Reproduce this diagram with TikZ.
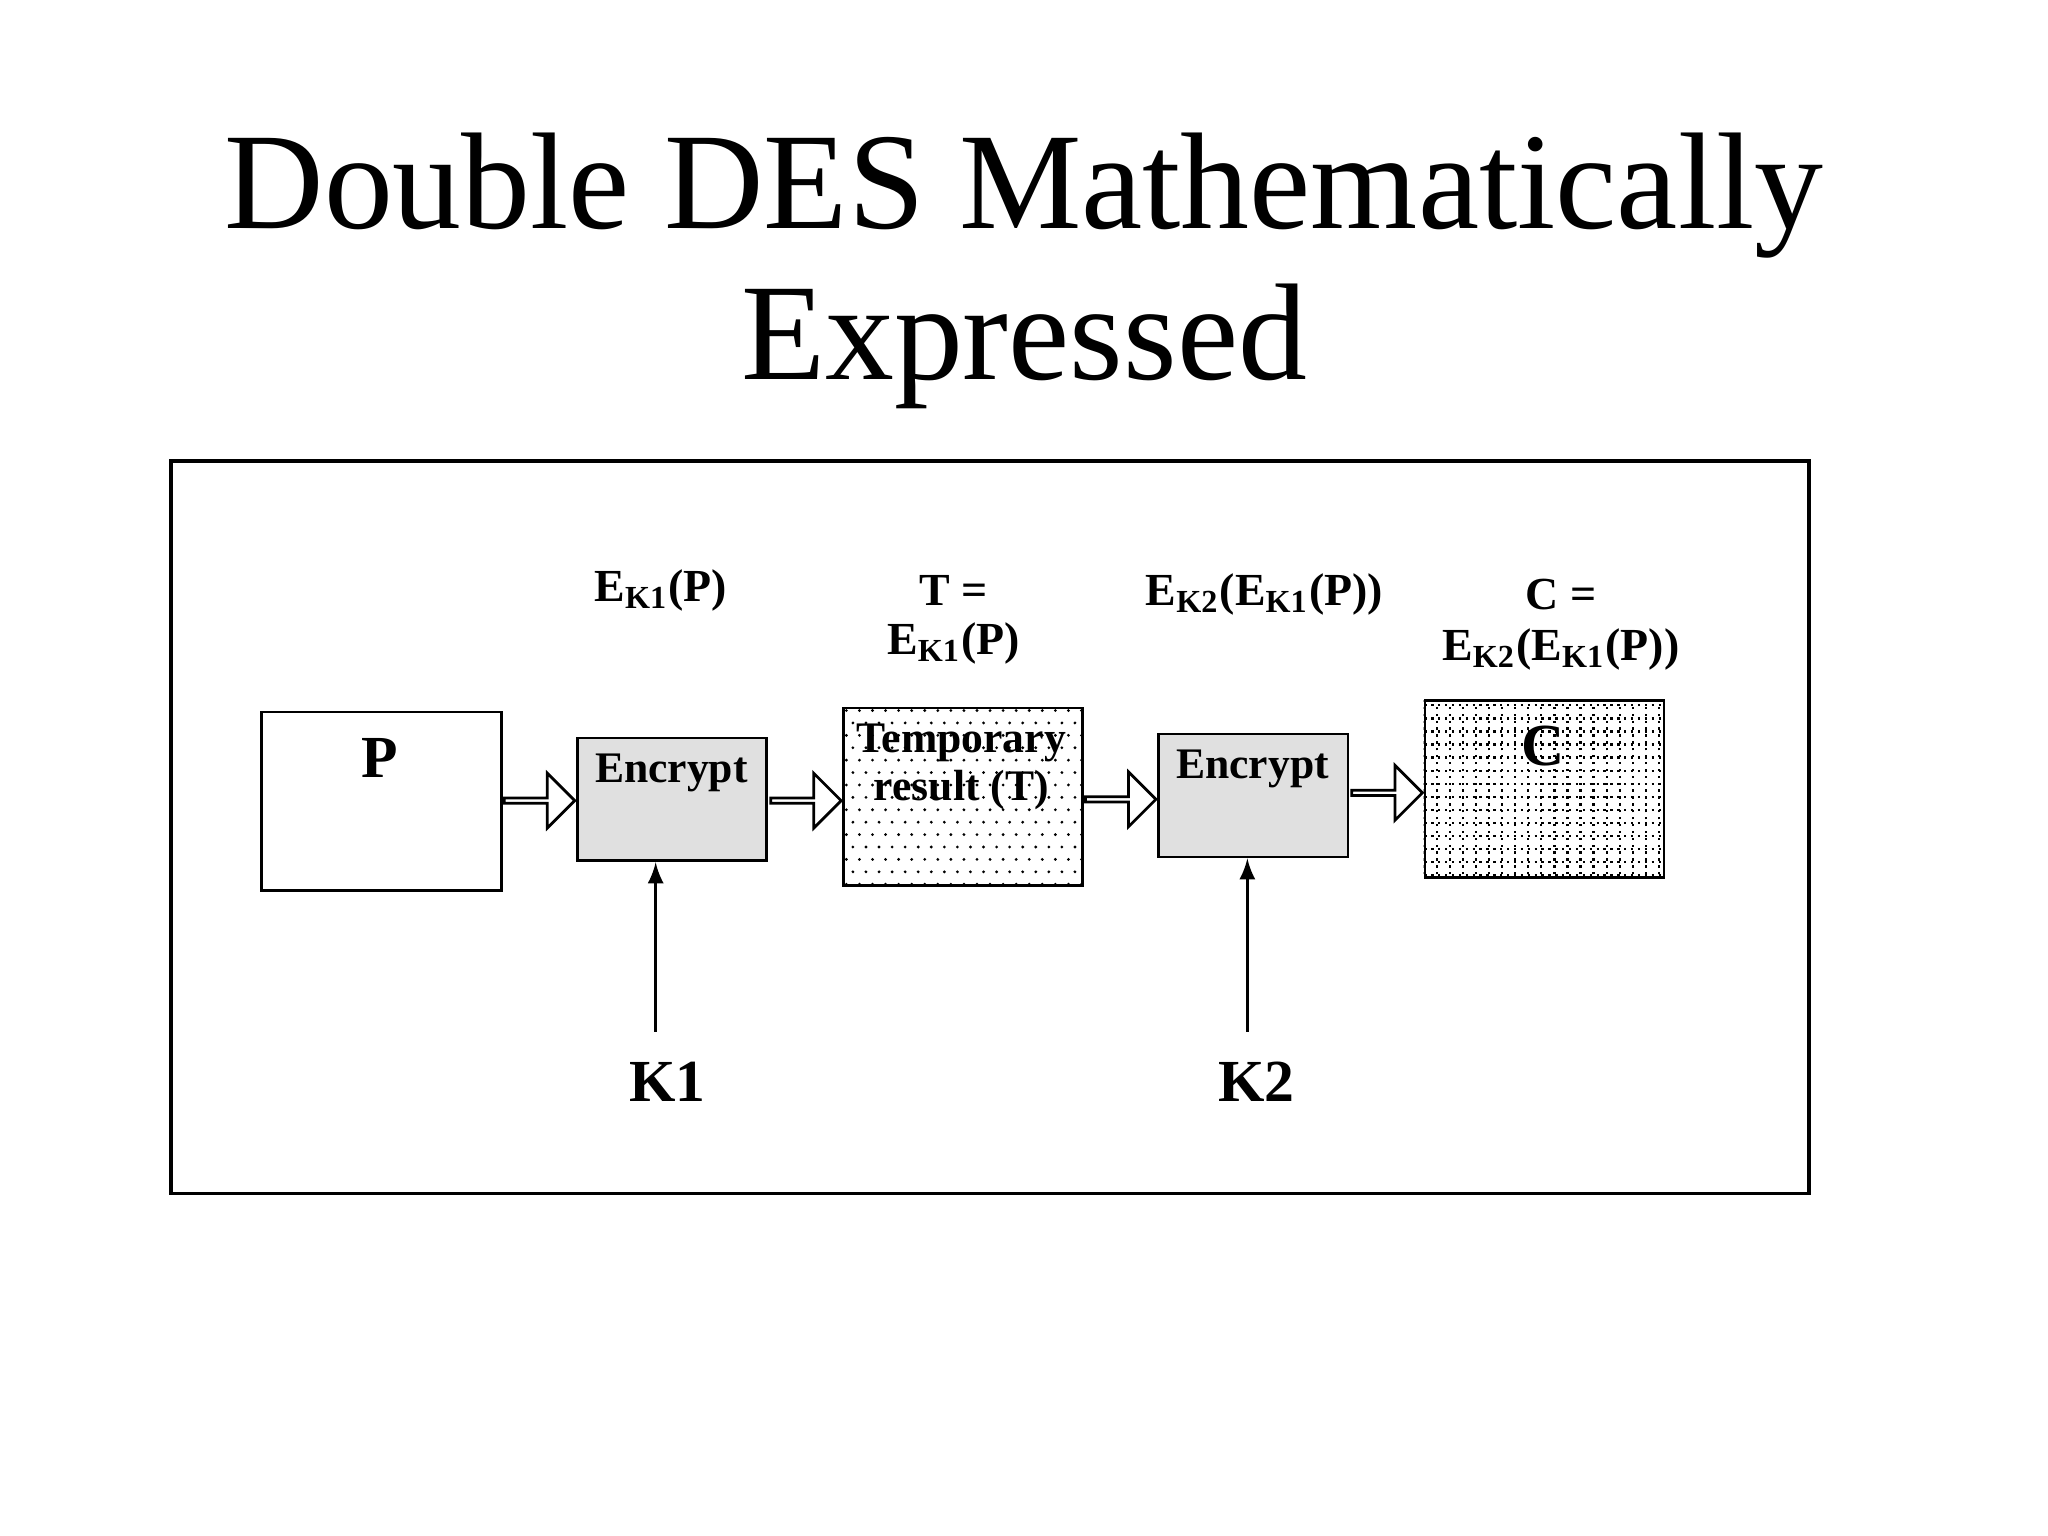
\documentclass[tikz,border=0pt]{standalone}
\usepackage{fontspec}
\setmainfont{Liberation Serif}
\usetikzlibrary{shapes.arrows}
\begin{document}
\begin{tikzpicture}[
  box/.style={draw, line width=0.6pt, anchor=north west},
  lbl/.style={font=\fontsize{10}{11}\selectfont\bfseries, align=center},
  hollow/.style={single arrow, draw, line width=0.6pt, fill=white, minimum height=0.54cm, minimum width=0.42cm, single arrow head extend=0.1cm, inner sep=0pt},
  keyarrow/.style={-latex, line width=0.6pt}
]
\useasboundingbox (0,0) rectangle (15.68,-11.76);
\node[font=\fontsize{30}{34}\selectfont] (t1) at (7.84,-1.50) {Double DES Mathematically};
\node[font=\fontsize{30}{34}\selectfont] (t2) at (7.84,-2.65) {Expressed};
\draw[line width=0.7pt] (1.31,-3.53) rectangle (13.85,-9.14);
% boxes
\node[box, minimum width=1.84cm, minimum height=1.37cm] (P) at (1.99,-5.44) {};
\node[font=\fontsize{13}{14}\selectfont\bfseries] (Pl) at (2.91,-5.80) {P};
\node[box, fill=black!12, minimum width=1.45cm, minimum height=0.94cm] (E1) at (4.41,-5.64) {};
\node[font=\fontsize{9.5}{10}\selectfont\bfseries] (E1l) at (5.14,-5.92) {Encrypt};
% temp with dots
\begin{scope}
\clip (6.45,-5.41) rectangle (8.28,-6.77);
\foreach \i in {0,...,18} \foreach \j in {0,...,14}
  \fill ({6.48+0.1*\i+0.05*mod(\j,2)},{-5.44-0.095*\j}) circle (0.012);
\end{scope}
\node[box, minimum width=1.83cm, minimum height=1.36cm] (T) at (6.45,-5.41) {};
\node[font=\fontsize{9.5}{10}\selectfont\bfseries] (Tl1) at (7.36,-5.69) {Temporary};
\node[font=\fontsize{9.5}{10}\selectfont\bfseries] (Tl2) at (7.36,-6.05) {result (T)};
\node[box, fill=black!12, minimum width=1.45cm, minimum height=0.94cm] (E2) at (8.86,-5.61) {};
\node[font=\fontsize{9.5}{10}\selectfont\bfseries] (E2l) at (9.59,-5.89) {Encrypt};
% C with grid
\begin{scope}
\clip (10.90,-5.35) rectangle (12.73,-6.71);
\draw[densely dotted, line width=0.5pt, step=0.1] (10.8,-6.8) grid (12.8,-5.3);
\end{scope}
\node[box, minimum width=1.83cm, minimum height=1.36cm] (C) at (10.90,-5.35) {};
\node[font=\fontsize{13}{14}\selectfont\bfseries] (Cl) at (11.81,-5.71) {C};
% hollow arrows
\node[hollow] (a1) at (4.12,-6.13) {};
\node[hollow] (a2) at (6.16,-6.13) {};
\node[hollow] (a3) at (8.57,-6.12) {};
\node[hollow] (a4) at (10.61,-6.07) {};
% keys
\node[font=\fontsize{13}{14}\selectfont\bfseries] (K1) at (5.11,-8.28) {K1};
\node[font=\fontsize{13}{14}\selectfont\bfseries] (K2) at (9.62,-8.28) {K2};
\coordinate (k1s) at (5.02,-7.90);
\coordinate (k2s) at (9.55,-7.90);
\draw[keyarrow] (k1s) -- (k1s |- E1.south);
\draw[keyarrow] (k2s) -- (k2s |- E2.south);
% labels
\node[lbl] (L1) at (5.06,-4.52) {E\textsubscript{K1}(P)};
\node[lbl] (L2a) at (7.30,-4.52) {T =};
\node[lbl] (L2b) at (7.30,-4.93) {E\textsubscript{K1}(P)};
\node[lbl] (L3) at (9.68,-4.55) {E\textsubscript{K2}(E\textsubscript{K1}(P))};
\node[lbl] (L4a) at (11.95,-4.55) {C =};
\node[lbl] (L4b) at (11.95,-4.97) {E\textsubscript{K2}(E\textsubscript{K1}(P))};
\end{tikzpicture}
\end{document}
